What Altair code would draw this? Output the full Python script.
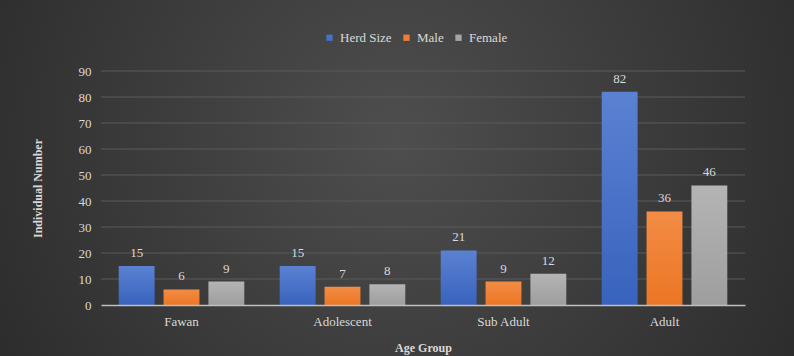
import altair as alt
import pandas as pd

categories = ["Fawan", "Adolescent", "Sub Adult", "Adult"]
series = ["Herd Size", "Male", "Female"]
herd_size = [15, 15, 21, 82]
male = [6, 7, 9, 36]
female = [9, 8, 12, 46]
colors = ["#4472C4", "#ED7D31", "#A5A5A5"]
grad_top = ["#5b81d2", "#f28c45", "#b4b4b4"]
grad_bot = ["#3863bd", "#ec7624", "#9e9e9e"]
y_ticks = [0, 10, 20, 30, 40, 50, 60, 70, 80, 90]

rows = []
for i, c in enumerate(categories):
    for s, vals in zip(series, [herd_size, male, female]):
        rows.append({"Age Group": c, "Series": s, "Value": vals[i]})
df = pd.DataFrame(rows)

W, H = 644, 234
FONT = "Liberation Serif"
TXT = "#d9d9d9"

y_enc = alt.Y("Value:Q", scale=alt.Scale(domain=[0, 90]),
              axis=alt.Axis(title="Individual Number", values=y_ticks, labelOverlap=False,
                            ticks=False, domain=False, grid=False, zindex=1,
                            labelPadding=10, titlePadding=34))

bg = alt.Chart(pd.DataFrame({"a": [0]})).mark_rect(
    fill=alt.RadialGradient(
        gradient="radial",
        x1=0.5, y1=0.45, r1=0, x2=0.5, y2=0.45, r2=0.75,
        stops=[alt.GradientStop(offset=0, color="#4e4e4e"),
               alt.GradientStop(offset=1, color="#222222")]),
    clip=False,
).encode(x=alt.value(-101), x2=alt.value(W + 49), y=alt.value(-71), y2=alt.value(H + 51))

grid = alt.Chart(pd.DataFrame({"Value": y_ticks[1:]})).mark_rule(
    color="#5a5a5a", strokeWidth=1
).encode(y=y_enc, x=alt.value(0), x2=alt.value(W))

x_enc = alt.X("Age Group:N", sort=categories,
              scale=alt.Scale(paddingInner=0.22, paddingOuter=0.11),
              axis=alt.Axis(title="Age Group", labelAngle=0, ticks=False,
                            domainColor="#bfbfbf", domainWidth=1.5, zindex=1,
                            labelPadding=10, titlePadding=14))
xo_enc = alt.XOffset("Series:N", sort=series,
                     scale=alt.Scale(domain=series, paddingInner=0.2, paddingOuter=0))

base = alt.Chart(df).encode(x=x_enc, xOffset=xo_enc, y=y_enc)

legend_bars = base.mark_bar(opacity=0).encode(
    color=alt.Color("Series:N", sort=series,
                    scale=alt.Scale(domain=series, range=colors),
                    legend=alt.Legend(title=None, orient="none", direction="horizontal",
                                      legendX=W / 2 - 100, legendY=-40,
                                      symbolType="square", symbolSize=40, symbolOpacity=1,
                                      columnPadding=8, labelColor=TXT,
                                      labelFont=FONT, labelFontSize=13)),
)

bar_layers = []
for s, t, b in zip(series, grad_top, grad_bot):
    bar_layers.append(
        base.transform_filter(alt.datum.Series == s).mark_bar(
            fill=alt.LinearGradient(
                gradient="linear", x1=0, y1=0, x2=0, y2=1,
                stops=[alt.GradientStop(offset=0, color=t),
                       alt.GradientStop(offset=1, color=b)]),
        )
    )

labels = base.mark_text(baseline="bottom", dy=-6, font=FONT, fontSize=13, color=TXT).encode(
    text=alt.Text("Value:Q"),
)

chart = alt.layer(bg, grid, legend_bars, *bar_layers, labels).properties(
    width=W, height=H,
    autosize=alt.AutoSizeParams(type="none"),
    padding={"left": 101, "top": 71, "right": 49, "bottom": 51},
    background="#2a2a2a",
).configure_view(stroke=None).configure_axis(
    labelFont=FONT, labelFontSize=13, labelColor=TXT,
    titleFont=FONT, titleFontSize=12, titleColor=TXT, titleFontWeight="bold",
)

chart.save("out.html", embed_options={"renderer": "svg", "actions": False})
